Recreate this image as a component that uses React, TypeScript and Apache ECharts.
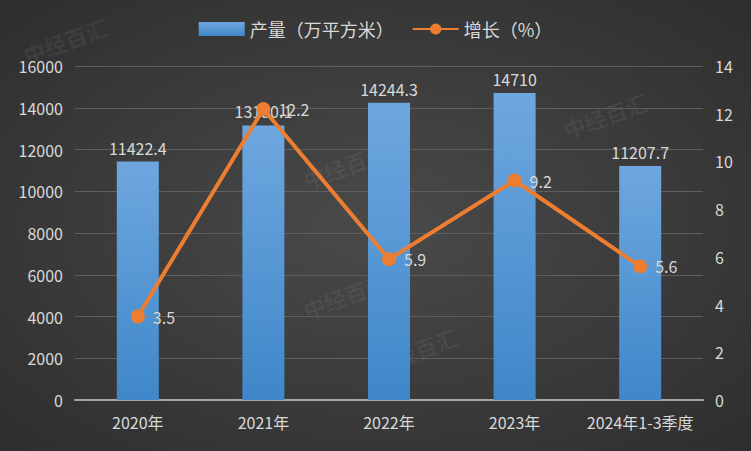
import React, { useEffect, useRef } from "react";
import * as echarts from "echarts";

const categories = ["2020年", "2021年", "2022年", "2023年", "2024年1-3季度"];
const output = [11422.4, 13150.1, 14244.3, 14710, 11207.7];
const growth = [3.5, 12.2, 5.9, 9.2, 5.6];
const leftTicks = { min: 0, max: 16000, interval: 2000 };
const rightTicks = { min: 0, max: 14, interval: 2 };

const FONT = "'Noto Sans CJK SC', 'DejaVu Sans', sans-serif";

export default function App() {
  const ref = useRef<HTMLDivElement>(null);
  useEffect(() => {
    if (!ref.current) return;
    const chart = echarts.init(ref.current, null, { renderer: "svg" });
    const wm = [
      [20, 45], [300, 300], [560, 120], [370, 355], [300, 170],
    ].map(([x, y]) => ({
      type: "text",
      x,
      y,
      rotation: 0.35,
      silent: true,
      z: 0,
      style: { text: "中经百汇", fill: "rgba(255,255,255,0.06)", font: `bold 22px ${FONT}` },
    }));
    chart.setOption({
      animation: false,
      backgroundColor: {
        type: "radial",
        x: 0.5,
        y: 0.5,
        r: 0.75,
        colorStops: [
          { offset: 0, color: "#4a4a4a" },
          { offset: 1, color: "#2c2c2c" },
        ],
      },
      graphic: wm,
      textStyle: { fontFamily: FONT },
      legend: {
        top: 15,
        left: "center",
        itemGap: 18,
        itemWidth: 46,
        itemHeight: 14,
        textStyle: { color: "#d9d9d9", fontSize: 18, fontFamily: FONT },
        data: [
          { name: "产量（万平方米）", icon: "rect" },
          { name: "增长（%）" },
        ],
      },
      grid: { left: 75, right: 48, top: 66, bottom: 51 },
      xAxis: {
        type: "category",
        data: categories,
        axisLine: { lineStyle: { color: "#a6a6a6", width: 2 } },
        axisTick: { show: false },
        axisLabel: { color: "#d9d9d9", fontSize: 16, margin: 14, interval: 0, fontFamily: FONT },
      },
      yAxis: [
        {
          type: "value",
          ...leftTicks,
          axisLine: { show: false },
          axisTick: { show: false },
          splitLine: { lineStyle: { color: "#5e5e5e", width: 1 } },
          axisLabel: {
            color: "#d9d9d9",
            fontSize: 16,
            margin: 12,
            fontFamily: FONT,
            formatter: (v: number) => String(v),
          },
        },
        {
          type: "value",
          ...rightTicks,
          axisLine: { show: false },
          axisTick: { show: false },
          splitLine: { show: false },
          axisLabel: { color: "#d9d9d9", fontSize: 16, margin: 12, fontFamily: FONT },
        },
      ],
      series: [
        {
          name: "产量（万平方米）",
          type: "bar",
          data: output,
          barWidth: 42,
          itemStyle: {
            color: {
              type: "linear",
              x: 0,
              y: 0,
              x2: 0,
              y2: 1,
              colorStops: [
                { offset: 0, color: "#6ea7df" },
                { offset: 1, color: "#3f87c9" },
              ],
            },
          },
          label: {
            show: true,
            position: "top",
            distance: 6,
            color: "#d9d9d9",
            fontSize: 16,
            fontFamily: FONT,
          },
        },
        {
          name: "增长（%）",
          type: "line",
          yAxisIndex: 1,
          data: growth,
          symbol: "circle",
          symbolSize: 14,
          lineStyle: { color: "#ed7d31", width: 4 },
          itemStyle: { color: "#ed7d31" },
          label: {
            show: true,
            position: "right",
            distance: 8,
            color: "#d9d9d9",
            fontSize: 16,
            fontFamily: FONT,
          },
        },
      ],
    });
    return () => chart.dispose();
  }, []);
  return <div ref={ref} style={{ width: 751, height: 451, position: "absolute", left: 0, top: 0 }} />;
}
